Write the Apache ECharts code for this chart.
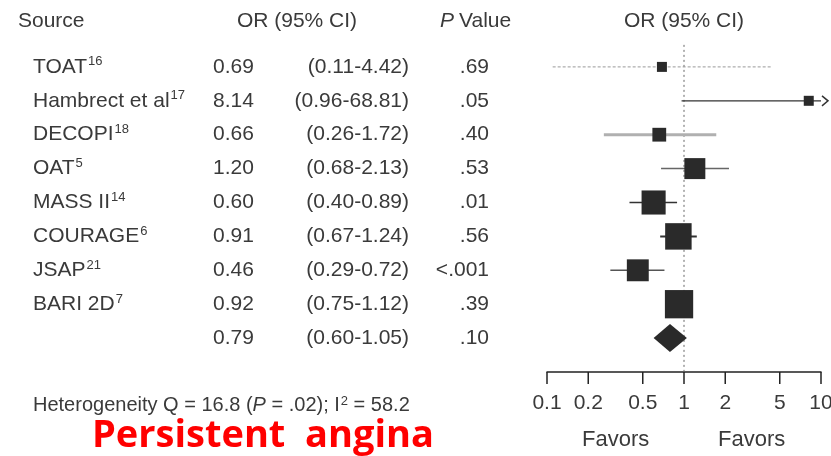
<!DOCTYPE html>
<html><head><meta charset="utf-8">
<script src="https://cdn.jsdelivr.net/npm/echarts@6/dist/echarts.min.js"></script>
<style>html,body{margin:0;padding:0;background:#fff}#c{width:831px;height:456px}</style>
</head><body><div id="c"></div>
<script>
// ---- data ----
const studies = ['TOAT', 'Hambrect et al', 'DECOPI', 'OAT', 'MASS II', 'COURAGE', 'JSAP', 'BARI 2D', ''];
const refs = ['16', '17', '18', '5', '14', '6', '21', '7', ''];
const orValues = [0.69, 8.14, 0.66, 1.20, 0.60, 0.91, 0.46, 0.92, 0.79];
const ciLow = [0.11, 0.96, 0.26, 0.68, 0.40, 0.67, 0.29, 0.75, 0.60];
const ciHigh = [4.42, 68.81, 1.72, 2.13, 0.89, 1.24, 0.72, 1.12, 1.05];
const pValues = ['.69', '.05', '.40', '.53', '.01', '.56', '<.001', '.39', '.10'];
const weights = [1, 1, 1.9, 4.4, 5.8, 7, 4.8, 8]; // relative study weights (pooled row has none)
const axisTicks = [0.1, 0.2, 0.5, 1, 2, 5, 10];
const axisTickLabels = ['0.1', '0.2', '0.5', '1', '2', '5', '10'];
const heterogeneity = {Q: '16.8', P: '.02', I2: '58.2'};
const panelTitle = 'Persistent  angina';

// ---- styling ----
const TXT = '#3a3a3a';
const FONT = '"Liberation Sans", Arial, sans-serif';
const FS = 21;
const ciColors = ['#9a9a9a', '#333', '#b0b0b0', '#666', '#333', '#333', '#555', '#333'];
const ciWidths = [1, 1.2, 3, 1.5, 1.5, 2, 1.5, 1.5];

const mctx = document.createElement('canvas').getContext('2d');
function tw(t, size, extra) { mctx.font = (extra || '') + size + 'px ' + FONT; return mctx.measureText(t).width; }

const nStudies = weights.length;
const rows = orValues.map((v, i) => i + 1);
const MIN = axisTicks[0], MAX = axisTicks[axisTicks.length - 1];

const chart = echarts.init(document.getElementById('c'), null, {renderer: 'canvas'});

// Table (left) text
function tableRender(params, api) {
  const children = [];
  const yOf = r => api.coord([1, r])[1];
  const hy = yOf(-0.35);
  const t = (x, y, text, align, extra) => children.push({type: 'text', style: {x, y, text, fill: TXT, font: (extra || '') + FS + 'px ' + FONT, textAlign: align || 'left', textVerticalAlign: 'middle'}});
  // headers
  t(18, hy, 'Source');
  t(297, hy, 'OR (95% CI)', 'center');
  const pw = tw('P', FS, 'italic ');
  t(440, hy, 'P', 'left', 'italic ');
  t(440 + pw + 5, hy, 'Value');
  t(api.coord([1, 0])[0], hy, 'OR (95% CI)', 'center');
  orValues.forEach((v, i) => {
    const y = yOf(rows[i]);
    if (studies[i]) {
      t(33, y, studies[i]);
      const w = tw(studies[i], FS);
      children.push({type: 'text', style: {x: 33 + w + 1, y: y - 5, text: refs[i], fill: TXT, font: '13px ' + FONT, textAlign: 'left', textVerticalAlign: 'middle'}});
    }
    t(213, y, v.toFixed(2));
    t(409, y, '(' + ciLow[i].toFixed(2) + '-' + ciHigh[i].toFixed(2) + ')', 'right');
    t(489, y, pValues[i], 'right');
  });
  return {type: 'group', children};
}

// CI lines + arrows
function ciRender(params, api) {
  const i = params.dataIndex;
  const y = api.coord([1, rows[i]])[1];
  const x1 = api.coord([Math.max(ciLow[i], MIN), rows[i]])[0];
  const x2 = api.coord([Math.min(ciHigh[i], MAX), rows[i]])[0];
  const ch = [{type: 'line', shape: {x1, y1: y, x2, y2: y}, style: {stroke: ciColors[i], lineWidth: ciWidths[i], lineDash: i === 0 ? [3, 2] : null}}];
  if (ciHigh[i] > MAX) {
    ch.push({type: 'polyline', shape: {points: [[x2 + 1, y - 5], [x2 + 7, y], [x2 + 1, y + 5]]}, style: {fill: null, stroke: '#333', lineWidth: 1.5}});
  }
  return {type: 'group', children: ch};
}

// Pooled diamond
function diamondRender(params, api) {
  const i = orValues.length - 1;
  const y = api.coord([1, rows[i]])[1];
  const xl = api.coord([ciLow[i], rows[i]])[0];
  const xc = api.coord([orValues[i], rows[i]])[0];
  const xr = api.coord([ciHigh[i], rows[i]])[0];
  return {type: 'polygon', shape: {points: [[xl, y], [xc, y - 14], [xr, y], [xc, y + 14]]}, style: {fill: '#2a2a2a'}};
}

// Reference line at OR = 1
function refRender(params, api) {
  const p1 = api.coord([1, 0.35]), p2 = api.coord([1, 10]);
  return {type: 'line', shape: {x1: p1[0], y1: p1[1], x2: p2[0], y2: p2[1]}, style: {stroke: '#666', lineWidth: 1, lineDash: [2, 3]}};
}

// Axis ticks and labels
function tickRender(params, api) {
  const v = axisTicks[params.dataIndex];
  const p = api.coord([v, 10]);
  return {type: 'group', children: [
    {type: 'line', shape: {x1: p[0], y1: p[1], x2: p[0], y2: p[1] + 12}, style: {stroke: '#222', lineWidth: 1.5}},
    {type: 'text', style: {x: p[0], y: p[1] + 31, text: axisTickLabels[params.dataIndex], fill: TXT, font: FS + 'px ' + FONT, textAlign: 'center', textVerticalAlign: 'middle'}}
  ]};
}

const option = {
  animation: false,
  backgroundColor: '#fff',
  grid: {left: 547, width: 274, top: 33, height: 339, containLabel: false},
  xAxis: {type: 'log', logBase: 10, min: MIN, max: MAX, position: 'bottom',
    axisLine: {show: true, onZero: false, lineStyle: {color: '#222', width: 1.5}},
    axisTick: {show: false}, axisLabel: {show: false}, splitLine: {show: false}, minorTick: {show: false}},
  yAxis: {type: 'value', min: 0, max: 10, inverse: true, show: false},
  series: [
    {type: 'custom', name: 'ref', clip: false, data: [[1, 0]], renderItem: refRender, z: 1},
    {type: 'custom', name: 'ci', clip: false, data: orValues.slice(0, nStudies).map((v, i) => [v, rows[i]]), renderItem: ciRender, z: 2},
    {type: 'scatter', name: 'studies', data: orValues.slice(0, nStudies).map((v, i) => [v, rows[i]]),
      symbol: 'rect', symbolSize: (val, p) => 10 * Math.sqrt(weights[p.dataIndex]),
      itemStyle: {color: '#2a2a2a', opacity: 1}, z: 3, silent: true},
    {type: 'custom', name: 'pooled', clip: false, data: [[orValues[nStudies], rows[nStudies]]], renderItem: diamondRender, z: 3},
    {type: 'custom', name: 'ticks', clip: false, data: axisTicks.map(v => [v, 10]), renderItem: tickRender, z: 4},
    {type: 'custom', name: 'table', clip: false, data: [[1, 0]], renderItem: tableRender, z: 4}
  ],
  graphic: [
    {type: 'text', left: 33, top: 395, style: {text: '{a|Heterogeneity Q = ' + heterogeneity.Q + ' (}{i|P}{a| = ' + heterogeneity.P + '); I}{s|2}{a| = ' + heterogeneity.I2 + '}',
      rich: {a: {fontSize: 20, fontFamily: FONT, fill: TXT}, i: {fontSize: 20, fontFamily: FONT, fontStyle: 'italic', fill: TXT}, s: {fontSize: 13, fontFamily: FONT, fill: TXT, verticalAlign: 'top', padding: [0, 0, 8, 1]}}}},
    {type: 'text', left: 92, top: 417, style: {text: panelTitle, fill: '#ff0000', font: 'bold 38px "Open Sans", ' + FONT}},
    {type: 'text', left: 582, top: 429, style: {text: 'Favors', fill: TXT, font: '22px ' + FONT}},
    {type: 'text', left: 718, top: 429, style: {text: 'Favors', fill: TXT, font: '22px ' + FONT}}
  ]
};
chart.setOption(option);
</script></body></html>
